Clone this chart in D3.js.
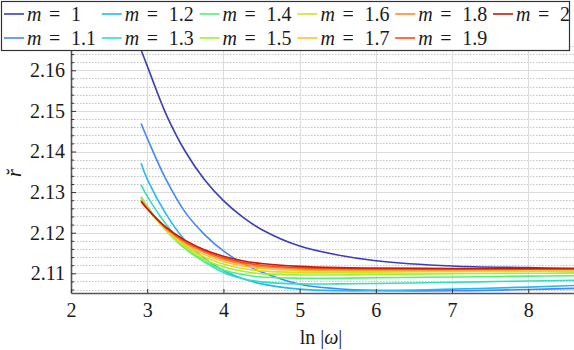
<!DOCTYPE html>
<html>
<head>
<meta charset="utf-8">
<script src="https://cdn.jsdelivr.net/npm/d3@7"></script>
<style>
  body { margin: 0; background: #fff; }
  svg { display: block; }
  svg text { font-family: 'Liberation Serif', 'Times New Roman', serif; }
</style>
</head>
<body>
<div class="chart"></div>
<script>
(function () {
  'use strict';

  // ln|omega| sample points, shared by every curve
  var lnOmega = [2.92, 3.0, 3.25, 3.5, 3.75, 4.0, 4.25, 4.5, 5.0, 5.5, 6.0, 7.0, 8.0, 8.6];

  var rM10 = [2.1650, 2.1611, 2.1491, 2.1400, 2.1331, 2.1279, 2.1239, 2.1208, 2.1167, 2.1145, 2.1131, 2.1118, 2.1114, 2.1112];
  var rM11 = [2.1469, 2.1433, 2.1330, 2.1250, 2.1196, 2.1155, 2.1125, 2.1103, 2.1073, 2.1062, 2.1058, 2.1057, 2.1060, 2.1063];
  var rM12 = [2.1371, 2.1332, 2.1245, 2.1180, 2.1137, 2.1107, 2.1087, 2.1074, 2.1061, 2.1057, 2.1057, 2.1061, 2.1066, 2.1070];
  var rM13 = [2.1318, 2.1290, 2.1220, 2.1166, 2.1128, 2.1102, 2.1087, 2.1079, 2.1074, 2.1074, 2.1075, 2.1078, 2.1081, 2.1083];
  var rM14 = [2.1289, 2.1265, 2.1205, 2.1160, 2.1129, 2.1108, 2.1097, 2.1091, 2.1088, 2.1088, 2.1089, 2.1091, 2.1093, 2.1094];
  var rM15 = [2.1285, 2.1262, 2.1205, 2.1163, 2.1134, 2.1116, 2.1105, 2.1099, 2.1096, 2.1096, 2.1097, 2.1099, 2.1100, 2.1101];
  var rM16 = [2.1283, 2.1261, 2.1206, 2.1167, 2.1140, 2.1123, 2.1112, 2.1106, 2.1102, 2.1102, 2.1103, 2.1104, 2.1105, 2.1105];
  var rM17 = [2.1281, 2.1260, 2.1208, 2.1171, 2.1146, 2.1129, 2.1118, 2.1112, 2.1107, 2.1106, 2.1106, 2.1107, 2.1108, 2.1108];
  var rM18 = [2.1280, 2.1260, 2.1210, 2.1175, 2.1151, 2.1134, 2.1123, 2.1116, 2.1111, 2.1109, 2.1109, 2.1109, 2.1110, 2.1110];
  var rM19 = [2.1278, 2.1259, 2.1211, 2.1178, 2.1155, 2.1138, 2.1127, 2.1120, 2.1114, 2.1112, 2.1111, 2.1111, 2.1111, 2.1111];
  var rM20 = [2.1277, 2.1259, 2.1213, 2.1181, 2.1158, 2.1142, 2.1131, 2.1124, 2.1117, 2.1114, 2.1113, 2.1112, 2.1112, 2.1112];

  var mLabels = ['1', '1.1', '1.2', '1.3', '1.4', '1.5', '1.6', '1.7', '1.8', '1.9', '2'];
  var seriesValues = [rM10, rM11, rM12, rM13, rM14, rM15, rM16, rM17, rM18, rM19, rM20];
  var colors = ['#3b3fb3', '#4287ff', '#22b9f2', '#2ee0c2', '#55f07e', '#a2f032', '#d6e021',
                '#ffc12e', '#ff8a30', '#ff4a12', '#c41c10'];

  var xTicks = [2, 3, 4, 5, 6, 7, 8];
  var yTicks = [2.11, 2.12, 2.13, 2.14, 2.15, 2.16];
  var yMinorTicks = d3.range(2.106, 2.1665, 0.002)
      .filter(function(v) { return Math.abs(v * 100 - Math.round(v * 100)) > 1e-6; });

  var W = 574, H = 350;
  var left = 71, right = 574, top = 47, bottom = 293;
  var fontSize = 20;

  var x = d3.scaleLinear().domain([2, 8.6]).range([left, right]);
  var y = d3.scaleLinear().domain([2.10515, 2.16574]).range([bottom, top]);

  var svg = d3.select('.chart')
      .append('svg')
      .attr('width', W)
      .attr('height', H);

  svg.append('defs')
     .append('clipPath')
     .attr('id', 'plot-clip')
     .append('rect')
     .attr('x', left)
     .attr('y', top)
     .attr('width', right - left)
     .attr('height', bottom - top);

  // grid
  var grid = svg.append('g').attr('class', 'grid');

  grid.selectAll('.ymin')
      .data(yMinorTicks)
      .enter()
      .append('line')
      .attr('x1', left).attr('x2', right)
      .attr('y1', function(d) { return Math.round(y(d)) + 0.5; })
      .attr('y2', function(d) { return Math.round(y(d)) + 0.5; })
      .attr('stroke', '#c4c4c4')
      .attr('stroke-dasharray', '1.5,1.5');

  grid.selectAll('.ymaj')
      .data(yTicks)
      .enter()
      .append('line')
      .attr('x1', left).attr('x2', right)
      .attr('y1', function(d) { return Math.round(y(d)) + 0.5; })
      .attr('y2', function(d) { return Math.round(y(d)) + 0.5; })
      .attr('stroke', '#dcdcdc');

  grid.selectAll('.xmaj')
      .data(xTicks.slice(1))
      .enter()
      .append('line')
      .attr('y1', top).attr('y2', bottom)
      .attr('x1', function(d) { return Math.round(x(d)) + 0.5; })
      .attr('x2', function(d) { return Math.round(x(d)) + 0.5; })
      .attr('stroke', '#dcdcdc');

  // curves
  var line = d3.line()
      .x(function(d, i) { return x(lnOmega[i]); })
      .y(function(d) { return y(d); })
      .curve(d3.curveCatmullRom.alpha(0.5));

  svg.append('g')
     .attr('clip-path', 'url(#plot-clip)')
     .selectAll('path')
     .data(seriesValues)
     .enter()
     .append('path')
     .attr('d', line)
     .attr('fill', 'none')
     .attr('stroke', function(d, i) { return colors[i]; })
     .attr('stroke-width', 1.6);

  // axes
  svg.append('g')
     .attr('transform', 'translate(' + left + ',0)')
     .call(d3.axisLeft(y).tickValues(yTicks).tickSize(-5).tickSizeOuter(0)
       .tickPadding(6).tickFormat(d3.format('.2f')));

  svg.append('g')
     .attr('transform', 'translate(' + left + ',0)')
     .call(d3.axisLeft(y).tickValues(yMinorTicks).tickSize(-3).tickSizeOuter(0)
       .tickFormat(''))
     .call(function(g) { g.select('.domain').remove(); });

  svg.append('g')
     .attr('transform', 'translate(0,' + bottom + ')')
     .call(d3.axisBottom(x).tickValues(xTicks).tickSize(-4).tickSizeOuter(0)
       .tickPadding(10).tickFormat(d3.format('d')));

  svg.selectAll('.tick text')
     .attr('font-size', fontSize)
     .attr('fill', '#1a1a1a');
  svg.selectAll('.tick line').attr('stroke', '#333');
  svg.selectAll('.domain').attr('stroke', '#555').attr('stroke-width', 1.6);

  // axis titles
  var xTitle = svg.append('text')
     .attr('x', 321)
     .attr('y', 344)
     .attr('text-anchor', 'middle')
     .attr('font-size', fontSize)
     .attr('fill', '#1a1a1a');
  xTitle.append('tspan').text('ln |');
  xTitle.append('tspan').attr('font-style', 'italic').text('ω');
  xTitle.append('tspan').text('|');

  svg.append('text')
     .attr('transform', 'translate(21,173) rotate(-90)')
     .attr('text-anchor', 'middle')
     .attr('font-size', fontSize)
     .attr('font-style', 'italic')
     .attr('fill', '#1a1a1a')
     .text('r\u0306');

  // legend
  var legend = svg.append('g').attr('class', 'legend');

  legend.append('rect')
     .attr('x', 1.5)
     .attr('y', 1.5)
     .attr('width', 568)
     .attr('height', 49)
     .attr('fill', '#fff')
     .attr('stroke', '#333')
     .attr('stroke-width', 1.2);

  var item = legend.selectAll('.item')
     .data(mLabels)
     .enter()
     .append('g')
     .attr('class', 'item')
     .attr('transform', function(d, i) {
       return 'translate(' + (4 + Math.floor(i / 2) * 97.8) + ',' + (i % 2 === 0 ? 14 : 38) + ')';
     });

  item.append('line')
     .attr('x1', 0).attr('x2', 20)
     .attr('stroke', function(d, i) { return colors[i]; })
     .attr('stroke-width', 1.6);

  var label = item.append('text')
     .attr('y', 6.5)
     .attr('font-size', fontSize)
     .attr('fill', '#1a1a1a');
  label.append('tspan').attr('x', 23).attr('font-style', 'italic').text('m');
  label.append('tspan').attr('x', 45).text('=');
  label.append('tspan').attr('x', 67).text(function(d) { return d; });
}());
</script>
</body>
</html>
